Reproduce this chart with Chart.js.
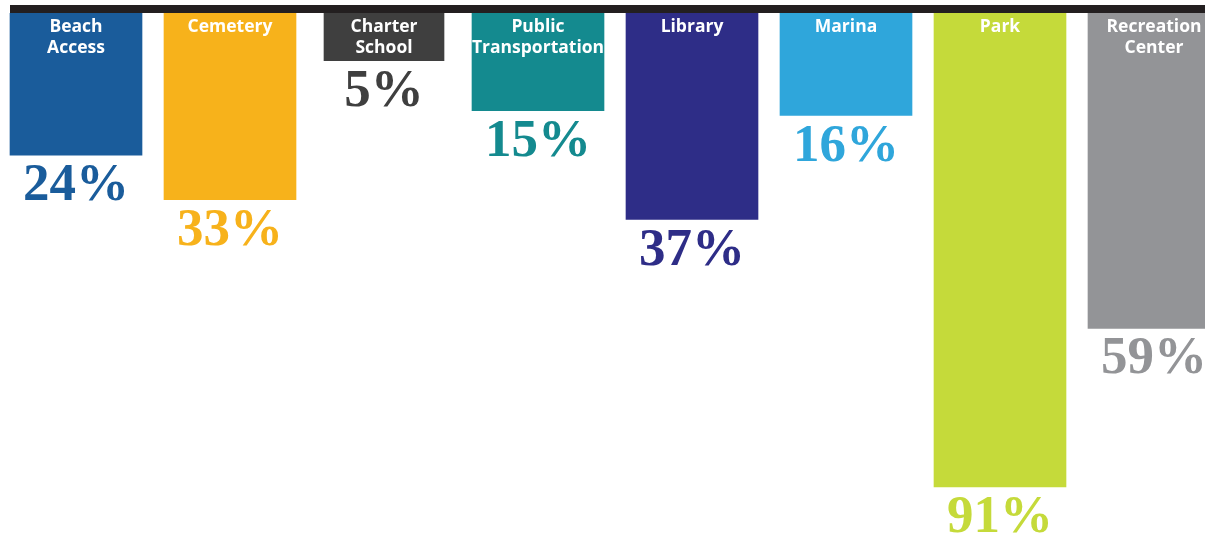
<!DOCTYPE html>
<html>
<head>
<meta charset="utf-8">
<script src="https://cdn.jsdelivr.net/npm/chart.js@4/dist/chart.umd.min.js"></script>
<style>
  html, body { margin: 0; padding: 0; background: #fff; overflow: hidden; }
  #wrap { position: relative; width: 1205px; height: 533px; overflow: hidden; }
  #chart { position: absolute; left: -1px; top: 0; }
</style>
</head>
<body>
<div id="wrap"><canvas id="chart" width="1232" height="533"></canvas></div>
<script>
const places = ['Beach Access', 'Cemetery', 'Charter School', 'Public Transportation', 'Library', 'Marina', 'Park', 'Recreation Center'];
const percents = [24, 33, 5, 15, 37, 16, 91, 59];
const colors = ['#1a5c9b', '#f7b21b', '#3f3f3f', '#148a8f', '#2e2d87', '#2fa6db', '#c5da3a', '#939497'];

const AXIS_MIN = -4.7;

// labels: place name inside the top of each bar, percentage under it
const barLabels = {
  id: 'barLabels',
  afterDatasetsDraw(chart) {
    const ctx = chart.ctx;
    const bars = chart.getDatasetMeta(0).data;
    ctx.save();
    // black band along the top
    ctx.fillStyle = '#231f20';
    ctx.fillRect(bars[0].x - bars[0].width / 2, chart.chartArea.top - 8, chart.width, 8);

    bars.forEach((bar, i) => {
      ctx.textAlign = 'center';
      ctx.textBaseline = 'alphabetic';
      ctx.fillStyle = '#ffffff';
      ctx.font = 'bold 17.5px "Open Sans", Roboto, sans-serif';
      const words = places[i].split(' ');
      words.forEach((w, j) => {
        ctx.fillText(w, bar.x, chart.chartArea.top + 19 + j * 21);
      });

      ctx.fillStyle = colors[i];
      ctx.font = 'bold 53px "Liberation Serif", "DejaVu Serif", serif';
      ctx.fillText(percents[i] + '%', bar.x, bar.y + 45);
    });
    ctx.restore();
  }
};

new Chart(document.getElementById('chart'), {
  type: 'bar',
  data: {
    labels: places,
    datasets: [{
      data: percents,
      base: AXIS_MIN,
      backgroundColor: colors,
      borderColor: '#ffffff',
      borderSkipped: false,
      borderWidth: percents.map((v, i) => i === 2 ? { left: 6, right: 6, top: 0, bottom: 0 } : 0),
      barThickness: 132
    }]
  },
  options: {
    responsive: false,
    animation: false,
    layout: { padding: { top: 13, left: 0, right: 0, bottom: 0 } },
    plugins: {
      legend: { display: false },
      tooltip: { enabled: false }
    },
    scales: {
      x: { display: false, offset: true },
      y: { display: false, reverse: true, min: AXIS_MIN, max: 100.3 }
    }
  },
  plugins: [barLabels]
});
</script>
</body>
</html>
